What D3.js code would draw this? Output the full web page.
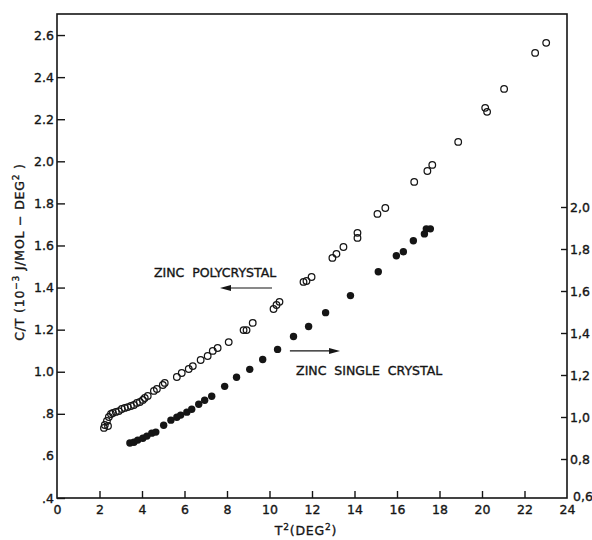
<!DOCTYPE html>
<html><head><meta charset="utf-8">
<script src="https://cdn.jsdelivr.net/npm/d3@7"></script>
<style>body{margin:0;background:#fff} svg{display:block}</style>
</head><body><svg id="c" width="592" height="540"></svg>
<script>
// Zinc polycrystal (open circles, left axis)
const polyT2 = [2.21,2.25,2.35,2.40,2.44,2.54,2.63,2.77,2.91,3.05,3.19,3.33,3.48,3.62,3.76,3.90,4.04,4.13,4.27,4.56,4.70,4.98,5.07,
  5.64,5.87,6.20,6.39,6.76,7.09,7.33,7.56,8.08,8.78,8.92,9.21,10.19,10.33,10.47,11.60,11.74,11.98,12.96,13.15,13.48,
  14.14,14.14,15.08,15.45,16.81,17.43,17.66,18.88,20.15,20.24,21.04,22.50,23.02];
const polyCT = [0.733,0.747,0.766,0.742,0.785,0.799,0.804,0.809,0.813,0.823,0.828,0.832,0.837,0.842,0.852,0.856,0.866,0.875,0.885,0.909,0.918,0.937,0.947,
  0.975,0.994,1.013,1.027,1.056,1.075,1.099,1.113,1.141,1.198,1.198,1.232,1.298,1.317,1.332,1.427,1.431,1.450,1.541,1.560,1.593,
  1.660,1.636,1.750,1.778,1.902,1.954,1.983,2.092,2.254,2.235,2.344,2.515,2.563];
// Zinc single crystal (filled circles, right axis)
const singleT2 = [3.43,3.62,3.80,4.04,4.23,4.46,4.65,5.02,5.36,5.64,5.82,6.11,6.34,6.67,6.95,7.28,7.89,8.45,9.07,9.68,10.38,11.13,11.84,12.64,13.81,15.12,15.97,16.30,16.77,17.29,17.38,17.57];
const singleCT = [0.876,0.880,0.890,0.899,0.909,0.923,0.928,0.961,0.985,0.999,1.009,1.023,1.037,1.061,1.080,1.099,1.146,1.189,1.227,1.274,1.322,1.383,1.431,1.497,1.578,1.692,1.768,1.787,1.839,1.872,1.896,1.896];

const xTicks = [0,2,4,6,8,10,12,14,16,18,20,22,24];
const xTickLabels = ["0","2","4","6","8","10","12","14","16","18","20","22","24"];
const leftTicks = [0.4,0.6,0.8,1.0,1.2,1.4,1.6,1.8,2.0,2.2,2.4,2.6];
const leftTickLabels = [".4",".6",".8","1.0","1.2","1.4","1.6","1.8","2.0","2.2","2.4","2.6"];
const rightTicks = [0.6,0.8,1.0,1.2,1.4,1.6,1.8,2.0];
const rightTickLabels = ["0,6","0,8","1,0","1,2","1,4","1,6","1,8","2,0"];

const ink = "#151515";
const font = "'DejaVu Sans', sans-serif";
const svg = d3.select("#c");

const x = d3.scaleLinear().domain([0,24]).range([57,567]);
const yL = d3.scaleLinear().domain([0.4,2.7]).range([498,14]);
const yR = d3.scaleLinear().domain([0.6,2.0]).range([501,207]);

// frame
svg.append("rect").attr("x",x(0)).attr("y",yL(2.7)).attr("width",x(24)-x(0)).attr("height",yL(0.4)-yL(2.7))
  .attr("fill","none").attr("stroke",ink).attr("stroke-width",1.6);

function styleText(sel, size){
  sel.attr("fill",ink).attr("stroke",ink).attr("stroke-width",0.35)
    .style("font-family",font).style("font-size",size);
}
function styleAxis(g){
  g.select(".domain").remove();
  g.selectAll(".tick line").attr("stroke",ink).attr("stroke-width",1.4);
  styleText(g.selectAll(".tick text"),"12.5px");
}

svg.append("g").attr("transform",`translate(0,${yL(0.4)})`)
  .call(d3.axisBottom(x).tickValues(xTicks).tickFormat((d,i)=>xTickLabels[i]).tickSizeInner(-7).tickSizeOuter(0).tickPadding(7))
  .call(styleAxis);
svg.append("g").attr("transform",`translate(${x(0)},0)`)
  .call(d3.axisLeft(yL).tickValues(leftTicks).tickFormat((d,i)=>leftTickLabels[i]).tickSizeInner(-8).tickSizeOuter(0).tickPadding(3))
  .call(styleAxis);
const rAx = svg.append("g").attr("transform",`translate(${x(24)},0)`)
  .call(d3.axisRight(yR).tickValues(rightTicks).tickFormat((d,i)=>rightTickLabels[i]).tickSizeInner(-6).tickSizeOuter(0).tickPadding(3))
  .call(styleAxis);
// corner label 0,6 sits a little higher and right, clear of the "24"
rAx.selectAll(".tick").filter(d=>d===0.6).select("text").attr("dy","-0.05em").attr("x",6);
// remove tick marks at corners
svg.selectAll(".tick").filter(d=>d===0||d===24||d===0.6).select("line").remove();

// data
svg.append("g").selectAll("circle").data(polyT2.map((t,i)=>[t,polyCT[i]])).join("circle")
  .attr("cx",d=>x(d[0])).attr("cy",d=>yL(d[1])).attr("r",3.3)
  .attr("fill","none").attr("stroke",ink).attr("stroke-width",1.25);
svg.append("g").selectAll("circle").data(singleT2.map((t,i)=>[t,singleCT[i]])).join("circle")
  .attr("cx",d=>x(d[0])).attr("cy",d=>yR(d[1])).attr("r",3.7)
  .attr("fill",ink);

// annotations
function arrow(x1,x2,yv){
  const px1=x(x1), px2=x(x2), py=yL(yv);
  const dir = Math.sign(px2-px1);
  svg.append("line").attr("x1",px1).attr("x2",px2-dir*8).attr("y1",py).attr("y2",py)
    .attr("stroke",ink).attr("stroke-width",1.1);
  svg.append("path").attr("d",`M${px2},${py} L${px2-dir*11},${py-3} L${px2-dir*11},${py+3} Z`).attr("fill",ink);
}
styleText(svg.append("text").attr("x",x(4.56)).attr("y",yL(1.45)).text("ZINC  POLYCRYSTAL").style("white-space","pre"),"12.5px");
arrow(10.12,7.67,1.398);
arrow(10.96,13.32,1.099);
styleText(svg.append("text").attr("x",x(11.25)).attr("y",yL(0.985)).text("ZINC  SINGLE  CRYSTAL").style("white-space","pre"),"12.5px");

// axis titles
const yt = svg.append("text").attr("transform","translate(24,252) rotate(-90)").attr("text-anchor","middle")
  .style("letter-spacing","0.8px");
styleText(yt,"12.5px");
yt.append("tspan").text("C/T (10");
yt.append("tspan").attr("dy","-5").style("font-size","9px").text("−3");
yt.append("tspan").attr("dy","5").text(" J/MOL − DEG");
yt.append("tspan").attr("dy","-5").style("font-size","9px").text("2");
yt.append("tspan").attr("dy","5").text(" )");

const xt = svg.append("text").attr("x",306).attr("y",535).attr("text-anchor","middle")
  .style("letter-spacing","0.8px");
styleText(xt,"12.5px");
xt.append("tspan").text("T");
xt.append("tspan").attr("dy","-5").style("font-size","9px").text("2");
xt.append("tspan").attr("dy","5").text("(DEG");
xt.append("tspan").attr("dy","-5").style("font-size","9px").text("2");
xt.append("tspan").attr("dy","5").text(")");
</script></body></html>
